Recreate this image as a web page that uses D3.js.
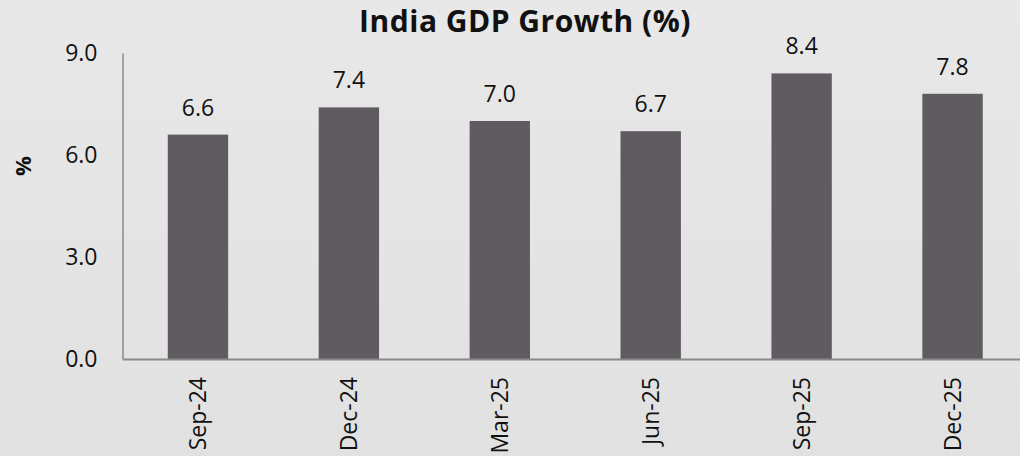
<!DOCTYPE html>
<html>
<head>
<meta charset="utf-8">
<script src="https://cdn.jsdelivr.net/npm/d3@7"></script>
<style>
  body { margin: 0; background: #e5e5e5; }
  svg { display: block; font-family: "Open Sans", sans-serif; }
</style>
</head>
<body>
<svg width="1020" height="456"></svg>
<script>
var quarters = ["Sep-24", "Dec-24", "Mar-25", "Jun-25", "Sep-25", "Dec-25"];
var growth = [6.6, 7.4, 7.0, 6.7, 8.4, 7.8];
var yTicks = [0, 3, 6, 9];

var svg = d3.select("svg");

// soft grey background
var grad = svg.append("defs").append("linearGradient")
  .attr("id", "bg").attr("x1", 0).attr("y1", 0).attr("x2", 0).attr("y2", 1);
grad.append("stop").attr("offset", "0%").attr("stop-color", "#e8e8e8");
grad.append("stop").attr("offset", "100%").attr("stop-color", "#e1e1e1");
svg.append("rect").attr("width", 1020).attr("height", 456).attr("fill", "url(#bg)");

var x = d3.scaleBand().domain(quarters).range([122.5, 1028]).paddingInner(0.6).paddingOuter(0.3);
var y = d3.scaleLinear().domain([0, 9]).range([359, 53]);

// bars
svg.selectAll("rect.bar").data(growth).enter().append("rect")
  .attr("class", "bar")
  .attr("x", function(d, i){ return x(quarters[i]); })
  .attr("y", function(d){ return y(d); })
  .attr("width", x.bandwidth())
  .attr("height", function(d){ return y(0) - y(d); })
  .attr("fill", "#5f5b60");

// value labels
svg.selectAll("text.val").data(growth).enter().append("text")
  .attr("class", "val")
  .attr("x", function(d, i){ return x(quarters[i]) + x.bandwidth() / 2; })
  .attr("y", function(d){ return y(d) - 19; })
  .attr("text-anchor", "middle")
  .style("font-size", "23px")
  .attr("fill", "#111")
  .text(function(d){ return d.toFixed(1); });

// y axis
var yAxis = d3.axisLeft(y).tickValues(yTicks).tickFormat(d3.format(".1f")).tickSize(0).tickPadding(25);
var gy = svg.append("g").attr("transform", "translate(122.5,0)").call(yAxis);
gy.select(".domain").attr("stroke", "#8a8a8a").attr("stroke-width", 1.5);
gy.selectAll("text").style("font-size", "23px").attr("fill", "#111").attr("font-family", "Open Sans");

// x axis
var xAxis = d3.axisBottom(x).tickSize(0).tickSizeOuter(0);
var gx = svg.append("g").attr("transform", "translate(0,359)").call(xAxis);
gx.select(".domain").attr("stroke", "#8a8a8a").attr("stroke-width", 2);
gx.selectAll("text")
  .style("font-size", "23px").attr("fill", "#111").attr("font-family", "Open Sans")
  .attr("text-anchor", "end")
  .attr("transform", "rotate(-90)")
  .attr("x", -18).attr("y", 0).attr("dy", "0.35em");

// title
svg.append("text")
  .attr("x", 525).attr("y", 32)
  .attr("text-anchor", "middle")
  .style("font-size", "30px").style("font-weight", "bold")
  .style("letter-spacing", "0.5px")
  .attr("fill", "#111")
  .text("India GDP Growth (%)");

// y axis title
svg.append("text")
  .attr("transform", "translate(23,166) rotate(-90)")
  .attr("text-anchor", "middle")
  .attr("dy", "0.35em")
  .style("font-size", "22px").style("font-weight", "bold")
  .attr("fill", "#111")
  .text("%");
</script>
</body>
</html>
